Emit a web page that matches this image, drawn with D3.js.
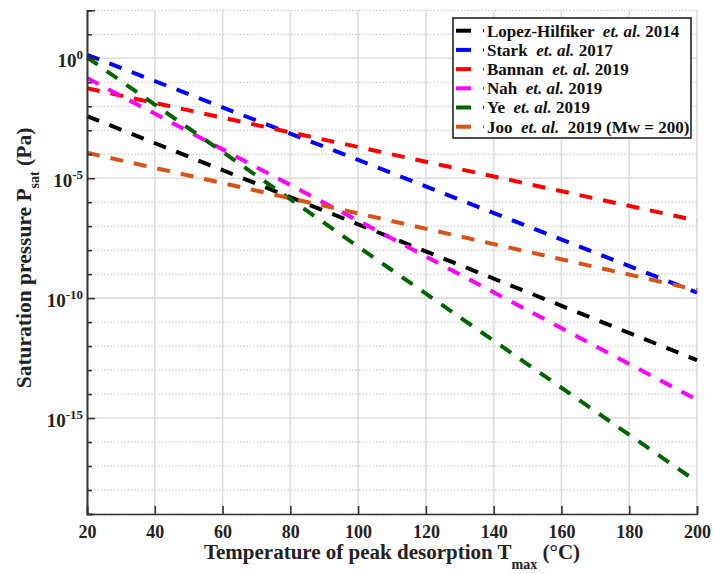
<!DOCTYPE html>
<html>
<head>
<meta charset="utf-8">
<script src="https://cdn.jsdelivr.net/npm/d3@7"></script>
<style>
  body { margin: 0; background: #fff; }
  svg text { font-family: "Liberation Serif", "Times New Roman", serif; font-weight: bold; white-space: pre; }
</style>
</head>
<body>
<svg id="chart" width="714" height="574"></svg>
<script>
// Peak desorption temperature (°C) at which each relation is sampled
const temps = [20, 100, 200];

// Saturation pressure (Pa) for each parameterisation
const lopezHilfiker2014 = [3.9e-3, 1.2e-7, 2.6e-13];
const stark2017        = [1.4, 5.8e-5, 1.7e-10];
const bannan2019       = [5.6e-2, 2.0e-4, 1.7e-7];
const nah2019          = [0.15, 1.7e-7, 5.8e-15];
const ye2019           = [1.1, 1.4e-8, 2.2e-18];
const joo2019          = [1.15e-4, 3.4e-7, 2.2e-10];

const seriesValues = [lopezHilfiker2014, stark2017, bannan2019, nah2019, ye2019, joo2019];
const seriesAuthors = ["Lopez-Hilfiker", "Stark", "Bannan", "Nah", "Ye", "Joo"];
const seriesYears = ["2014", "2017", "2019", "2019", "2019", " 2019 (Mw = 200)"];
const seriesColors = ["#000000", "#0000ff", "#ff0000", "#ff00ff", "#006400", "#d95319"];

// Axis ticks
const xTicks = [20, 40, 60, 80, 100, 120, 140, 160, 180, 200];
const yLabelExponents = [0, -5, -10, -15];
const yDecades = d3.range(-19, 3);

const svg = d3.select("#chart");
const plotLeft = 87, plotRight = 697, plotTop = 10.3, plotBottom = 514;

const x = d3.scaleLinear().domain([20, 200]).range([plotLeft, plotRight]);
const y = d3.scaleLog().domain([1e-19, 1e2]).range([plotBottom, plotTop]);

// Grid: dotted at every decade, solid at labelled decades and x ticks
const grid = svg.append("g");
yDecades.forEach(k => {
  const major = yLabelExponents.includes(k);
  grid.append("line")
    .attr("x1", plotLeft).attr("x2", plotRight)
    .attr("y1", y(Math.pow(10, k))).attr("y2", y(Math.pow(10, k)))
    .attr("stroke", major ? "#dcdcdc" : "#b4b4b4")
    .attr("stroke-width", major ? 1.6 : 1)
    .attr("stroke-dasharray", major ? null : "1.2,2.2");
});
xTicks.filter(t => t > 20).forEach(t => {
  grid.append("line")
    .attr("x1", x(t)).attr("x2", x(t))
    .attr("y1", plotTop).attr("y2", plotBottom)
    .attr("stroke", "#dcdcdc").attr("stroke-width", 1.6);
});

// Series lines
const line = d3.line()
  .x((d, i) => x(temps[i]))
  .y(d => y(d));

seriesValues.forEach((vals, i) => {
  svg.append("path")
    .datum(vals)
    .attr("d", line)
    .attr("fill", "none")
    .attr("stroke", seriesColors[i])
    .attr("stroke-width", 4)
    .attr("stroke-dasharray", "13,11");
});

// Left axis with inward ticks
const yAxisMinor = d3.axisLeft(y)
  .tickValues(yDecades.filter(k => !yLabelExponents.includes(k)).map(k => Math.pow(10, k)))
  .tickSize(-5).tickFormat("");
const yAxisMajor = d3.axisLeft(y)
  .tickValues(yLabelExponents.map(k => Math.pow(10, k)))
  .tickSize(-8).tickPadding(16)
  .tickFormat(d => Math.round(Math.log10(d)));

const gMinor = svg.append("g").attr("transform", `translate(${plotLeft},0)`).call(yAxisMinor);
const gMajor = svg.append("g").attr("transform", `translate(${plotLeft},0)`).call(yAxisMajor);
[gMinor, gMajor].forEach(g => {
  g.select(".domain").attr("stroke", "#333").attr("stroke-width", 1.6);
  g.selectAll(".tick line").attr("stroke", "#333").attr("stroke-width", 1.6);
});
gMajor.selectAll(".tick text").each(function(d) {
  const t = d3.select(this);
  const e = Math.round(Math.log10(d));
  t.text(null)
    .attr("x", -4)
    .attr("dy", "0.42em")
    .attr("fill", "#222")
    .attr("font-size", 19)
    .attr("text-anchor", "end");
  t.append("tspan").text("10");
  t.append("tspan").attr("dy", "-0.6em").attr("font-size", 13).text(String(e));
});

// Bottom axis with inward ticks
const xAxis = d3.axisBottom(x).tickValues(xTicks).tickSize(-8).tickPadding(11);
const gx = svg.append("g").attr("transform", `translate(0,${plotBottom})`).call(xAxis);
gx.select(".domain").attr("stroke", "#333").attr("stroke-width", 1.6);
gx.selectAll(".tick line").attr("stroke", "#333").attr("stroke-width", 1.6);
gx.selectAll(".tick text").attr("font-size", 18).attr("fill", "#222");

// Axis titles
const xt = svg.append("text")
  .attr("x", (plotLeft + plotRight) / 2).attr("y", 559)
  .attr("text-anchor", "middle").attr("font-size", 21).attr("fill", "#222");
xt.append("tspan").text("Temperature of peak desorption T");
xt.append("tspan").attr("dy", 10).attr("font-size", 14).text("max");
xt.append("tspan").attr("dy", -10).text(" (°C)");

const yt = svg.append("text")
  .attr("transform", "translate(31,258) rotate(-90)")
  .attr("text-anchor", "middle").attr("font-size", 21.5).attr("fill", "#222");
yt.append("tspan").text("Saturation pressure P");
yt.append("tspan").attr("dy", 8).attr("font-size", 14).text("sat");
yt.append("tspan").attr("dy", -8).text(" (Pa)");

// Legend
const lg = svg.append("g");
lg.append("rect")
  .attr("x", 453).attr("y", 18).attr("width", 238).attr("height", 120)
  .attr("fill", "#fff").attr("stroke", "#222").attr("stroke-width", 1.6);
seriesAuthors.forEach((name, i) => {
  const cy = 30.7 + i * 19.2;
  lg.append("line")
    .attr("x1", 456).attr("x2", 471).attr("y1", cy).attr("y2", cy)
    .attr("stroke", seriesColors[i]).attr("stroke-width", 4);
  lg.append("rect")
    .attr("x", 483).attr("y", cy - 1.5).attr("width", 1).attr("height", 3)
    .attr("fill", seriesColors[i]);
  const t = lg.append("text")
    .attr("x", 487).attr("y", cy + 5.8)
    .attr("font-size", 17).attr("fill", "#111");
  t.append("tspan").text(name + "  ");
  t.append("tspan").attr("font-style", "italic").text("et. al.");
  t.append("tspan").text(" " + seriesYears[i]);
});
</script>
</body>
</html>
